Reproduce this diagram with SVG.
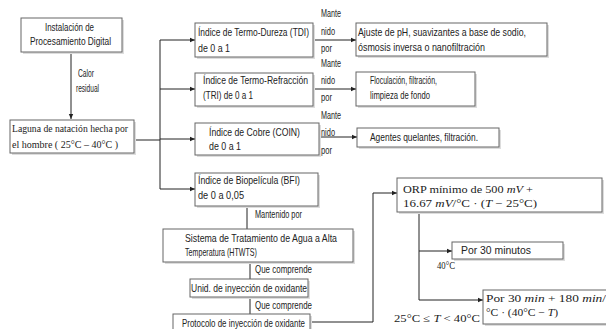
<svg xmlns="http://www.w3.org/2000/svg" width="606" height="329" viewBox="0 0 606 329">
<defs>
<marker id="ah" markerWidth="6" markerHeight="6" refX="5" refY="3" orient="auto" markerUnits="userSpaceOnUse">
<path d="M0,0.8 L5,3 L0,5.2 z" fill="#222"/>
</marker>
<style>
.box{fill:#fff;stroke:#666;stroke-width:1}
.sh{fill:#ddd}
.t{font-family:"Liberation Sans",Arial,sans-serif;font-size:10.5px;fill:#222}
.s{font-family:"Liberation Serif","Times New Roman",serif;font-size:10.5px;fill:#222}
.m{font-family:"Liberation Serif","Times New Roman",serif;font-style:italic}
.ln{fill:none;stroke:#222;stroke-width:1}
</style>
</defs>
<rect width="606" height="329" fill="#fff"/>
<g id="connectors">
<path class="ln" d="M71,53 V119" marker-end="url(#ah)"/>
<path class="ln" d="M134,140 H160"/>
<path class="ln" d="M160,40 V189"/>
<path class="ln" d="M160,40 H195" marker-end="url(#ah)"/>
<path class="ln" d="M160,89 H195" marker-end="url(#ah)"/>
<path class="ln" d="M160,139 H195" marker-end="url(#ah)"/>
<path class="ln" d="M160,189 H195" marker-end="url(#ah)"/>
<path class="ln" d="M313,40 H356" marker-end="url(#ah)"/>
<path class="ln" d="M313,89 H356" marker-end="url(#ah)"/>
<path class="ln" d="M319,137 H357" marker-end="url(#ah)"/>
<path class="ln" d="M247,206 V229"/>
<path class="ln" d="M250,262 V279"/>
<path class="ln" d="M250,297 V314"/>
<path class="ln" d="M310,322 H373 V193 H397" marker-end="url(#ah)"/>
<path class="ln" d="M419,212 V300"/>
<path class="ln" d="M419,251 H452" marker-end="url(#ah)"/>
<path class="ln" d="M419,300 H483" marker-end="url(#ah)"/>
<text class="t" x="78" y="77" textLength="16" lengthAdjust="spacingAndGlyphs">Calor</text>
<text class="t" x="76" y="92" textLength="23" lengthAdjust="spacingAndGlyphs">residual</text>
<text class="t" x="321" y="17" textLength="20" lengthAdjust="spacingAndGlyphs">Mante</text>
<text class="t" x="321" y="35" textLength="14" lengthAdjust="spacingAndGlyphs">nido</text>
<text class="t" x="321" y="52" textLength="11" lengthAdjust="spacingAndGlyphs">por</text>
<text class="t" x="321" y="67" textLength="20" lengthAdjust="spacingAndGlyphs">Mante</text>
<text class="t" x="321" y="84" textLength="14" lengthAdjust="spacingAndGlyphs">nido</text>
<text class="t" x="321" y="101" textLength="11" lengthAdjust="spacingAndGlyphs">por</text>
<text class="t" x="321" y="119" textLength="20" lengthAdjust="spacingAndGlyphs">Mante</text>
<text class="t" x="321" y="136" textLength="14" lengthAdjust="spacingAndGlyphs">nido</text>
<text class="t" x="321" y="154" textLength="11" lengthAdjust="spacingAndGlyphs">por</text>
<text class="t" x="255" y="218" textLength="47" lengthAdjust="spacingAndGlyphs">Mantenido por</text>
<text class="t" x="255" y="273" textLength="57" lengthAdjust="spacingAndGlyphs">Que comprende</text>
<text class="t" x="255" y="309" textLength="57" lengthAdjust="spacingAndGlyphs">Que comprende</text>
<text class="s" x="437" y="269" textLength="18" lengthAdjust="spacingAndGlyphs">40°C</text>
<text class="s" x="394" y="322" textLength="86" lengthAdjust="spacingAndGlyphs">25°C <tspan class="m">≤ T</tspan> &lt; 40°C</text>
</g>
<g id="n1">
<rect class="sh" x="23" y="20" width="101" height="34"/>
<rect class="box" x="21" y="18" width="101" height="34"/>
<text class="t" x="45" y="31" textLength="49" lengthAdjust="spacingAndGlyphs">Instalación de</text>
<text class="t" x="30" y="45" textLength="81" lengthAdjust="spacingAndGlyphs">Procesamiento Digital</text>
</g>
<g id="n2">
<rect class="sh" x="12" y="122" width="124" height="33"/>
<rect class="box" x="10" y="120" width="124" height="33"/>
<text class="s" x="12" y="132" textLength="116" lengthAdjust="spacingAndGlyphs">Laguna de natación hecha por</text>
<text class="s" x="12" y="148" textLength="106" lengthAdjust="spacingAndGlyphs">el hombre ( 25°C – 40°C )</text>
</g>
<g id="n3">
<rect class="sh" x="197" y="25" width="118" height="34"/>
<rect class="box" x="195" y="23" width="118" height="34"/>
<text class="t" x="198" y="36" textLength="111" lengthAdjust="spacingAndGlyphs">Índice de Termo-Dureza (TDI)</text>
<text class="t" x="198" y="52" textLength="32" lengthAdjust="spacingAndGlyphs">de 0 a 1</text>
</g>
<g id="n4">
<rect class="sh" x="197" y="75" width="118" height="33"/>
<rect class="box" x="195" y="73" width="118" height="33"/>
<text class="t" x="203" y="84" textLength="105" lengthAdjust="spacingAndGlyphs">Índice de Termo-Refracción</text>
<text class="t" x="203" y="99" textLength="50" lengthAdjust="spacingAndGlyphs">(TRI) de 0 a 1</text>
</g>
<g id="n5">
<rect class="sh" x="197" y="125" width="124" height="32"/>
<rect class="box" x="195" y="123" width="124" height="32"/>
<text class="t" x="209" y="136" textLength="91" lengthAdjust="spacingAndGlyphs">Índice de Cobre (COIN)</text>
<text class="t" x="209" y="150" textLength="32" lengthAdjust="spacingAndGlyphs">de 0 a 1</text>
</g>
<g id="n6">
<rect class="sh" x="197" y="175" width="123" height="33"/>
<rect class="box" x="195" y="173" width="123" height="33"/>
<text class="t" x="198" y="184" textLength="102" lengthAdjust="spacingAndGlyphs">Índice de Biopelícula (BFI)</text>
<text class="t" x="198" y="199" textLength="46" lengthAdjust="spacingAndGlyphs">de 0 a 0,05</text>
</g>
<g id="n7">
<rect class="sh" x="358" y="25" width="191" height="33"/>
<rect class="box" x="356" y="23" width="191" height="33"/>
<text class="t" x="358" y="36" textLength="168" lengthAdjust="spacingAndGlyphs">Ajuste de pH, suavizantes a base de sodio,</text>
<text class="t" x="358" y="51" textLength="127" lengthAdjust="spacingAndGlyphs">ósmosis inversa o nanofiltración</text>
</g>
<g id="n8">
<rect class="sh" x="358" y="74" width="119" height="34"/>
<rect class="box" x="356" y="72" width="119" height="34"/>
<text class="t" x="370" y="84" textLength="67" lengthAdjust="spacingAndGlyphs">Floculación, filtración,</text>
<text class="t" x="370" y="99" textLength="60" lengthAdjust="spacingAndGlyphs">limpieza de fondo</text>
</g>
<g id="n9">
<rect class="sh" x="359" y="130" width="142" height="19"/>
<rect class="box" x="357" y="128" width="142" height="19"/>
<text class="t" x="370" y="141" textLength="108" lengthAdjust="spacingAndGlyphs">Agentes quelantes, filtración.</text>
</g>
<g id="n10">
<rect class="sh" x="165" y="231" width="190" height="33"/>
<rect class="box" x="163" y="229" width="190" height="33"/>
<text class="t" x="185" y="242" textLength="152" lengthAdjust="spacingAndGlyphs">Sistema de Tratamiento de Agua a Alta</text>
<text class="t" x="185" y="256" textLength="72" lengthAdjust="spacingAndGlyphs">Temperatura (HTWTS)</text>
</g>
<g id="n11">
<rect class="sh" x="192" y="281" width="118" height="18"/>
<rect class="box" x="190" y="279" width="118" height="18"/>
<text class="t" x="191" y="292" textLength="116" lengthAdjust="spacingAndGlyphs">Unid. de inyección de oxidante</text>
</g>
<g id="n12">
<rect class="sh" x="175" y="316" width="137" height="20"/>
<rect class="box" x="173" y="314" width="137" height="20"/>
<text class="t" x="182" y="327" textLength="123" lengthAdjust="spacingAndGlyphs">Protocolo de inyección de oxidante</text>
</g>
<g id="n13">
<rect class="sh" x="399" y="180" width="205" height="34"/>
<rect class="box" x="397" y="178" width="205" height="34"/>
<text class="s" x="403" y="193" textLength="130" lengthAdjust="spacingAndGlyphs">ORP   mínimo   de   500 <tspan class="m">mV</tspan> +</text>
<text class="s" x="403" y="207" textLength="134" lengthAdjust="spacingAndGlyphs">16.67 <tspan class="m">mV</tspan>/°C · (<tspan class="m">T</tspan> − 25°C)</text>
</g>
<g id="n14">
<rect class="sh" x="454" y="244" width="111" height="17"/>
<rect class="box" x="452" y="242" width="111" height="17"/>
<text class="t" x="461" y="254" textLength="70" lengthAdjust="spacingAndGlyphs">Por 30 minutos</text>
</g>
<g id="n15">
<rect class="sh" x="485" y="292" width="125" height="34"/>
<rect class="box" x="483" y="290" width="125" height="34"/>
<text class="s" x="486" y="302" textLength="120" lengthAdjust="spacingAndGlyphs">Por 30 <tspan class="m">min</tspan> + 180 <tspan class="m">min</tspan>/</text>
<text class="s" x="486" y="316" textLength="72" lengthAdjust="spacingAndGlyphs">°C · (40°C − <tspan class="m">T</tspan>)</text>
</g>
</svg>
